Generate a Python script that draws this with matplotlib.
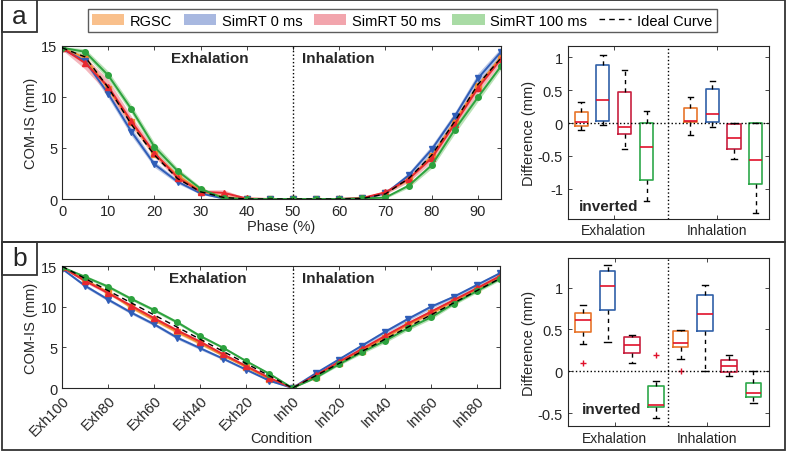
import numpy as np
import matplotlib.pyplot as plt
from matplotlib.patches import Rectangle, Patch
from matplotlib.lines import Line2D

plt.rcParams['font.family'] = ['Liberation Sans', 'DejaVu Sans']

# ---------------- data ----------------
phase = list(range(0, 100, 5))
ideal_a = [14.8, 13.9, 10.9, 7.3, 4.3, 2.0, 0.7, 0.15, 0, 0, 0, 0, 0, 0.05, 0.5, 2.0, 4.3, 7.6, 11.2, 13.8]
rgsc_a = [14.8, 13.8, 10.8, 7.5, 4.4, 2.3, 0.8, 0.2, 0.02, 0, 0, 0, 0, 0.05, 0.6, 1.9, 4.2, 7.6, 11.1, 13.9]
sim0_a = [14.7, 13.5, 10.3, 6.6, 3.4, 1.7, 0.55, 0.05, 0, 0, 0, 0, 0, 0.05, 0.55, 2.3, 4.85, 8.1, 11.8, 14.4]
sim50_a = [14.8, 13.3, 11.0, 7.6, 4.5, 2.1, 0.7, 0.6, 0.05, 0, 0, 0, 0, 0.1, 0.65, 1.95, 4.0, 7.35, 10.85, 13.7]
sim100_a = [14.8, 14.4, 12.1, 8.8, 5.1, 2.75, 1.0, 0.07, 0, 0, 0, 0, 0, 0.05, 0.15, 1.3, 3.3, 6.8, 9.95, 13.0]
# half width of shaded bands
band_rgsc_a = [0.1, 0.3, 0.4, 0.4, 0.3, 0.2, 0.1, 0.05, 0, 0, 0, 0, 0, 0, 0.1, 0.2, 0.3, 0.4, 0.4, 0.3]
band_sim0_a = [0.1, 0.3, 0.4, 0.4, 0.3, 0.2, 0.1, 0.05, 0, 0, 0, 0, 0, 0, 0.1, 0.3, 0.4, 0.4, 0.5, 0.4]
band_sim50_a = [0.2, 0.6, 0.7, 0.5, 0.4, 0.3, 0.2, 0.3, 0.05, 0, 0, 0, 0, 0.05, 0.2, 0.3, 0.4, 0.5, 0.5, 0.4]
band_sim100_a = [0.1, 0.3, 0.4, 0.4, 0.4, 0.3, 0.2, 0.05, 0, 0, 0, 0, 0, 0, 0.1, 0.2, 0.3, 0.4, 0.4, 0.3]

cond_ticks = ['Exh100', 'Exh80', 'Exh60', 'Exh40', 'Exh20', 'Inh0', 'Inh20', 'Inh40', 'Inh60', 'Inh80']
cond = list(range(20))
ideal_b = [15, 13.5, 12, 10.5, 9, 7.5, 6, 4.5, 3, 1.5, 0, 1.5, 3, 4.5, 6, 7.5, 9, 10.5, 12, 13.5]
rgsc_b = [14.9, 13.3, 11.8, 9.95, 8.4, 6.9, 5.5, 4.0, 2.6, 1.1, 0, 1.4, 3.1, 4.6, 6.2, 7.8, 9.2, 10.7, 12.2, 13.7]
sim0_b = [14.7, 12.6, 10.9, 9.3, 7.85, 6.2, 4.9, 3.6, 2.25, 0.9, 0, 1.8, 3.5, 5.2, 6.9, 8.5, 10.0, 11.25, 12.7, 14.15]
sim50_b = [14.9, 13.2, 11.7, 10.15, 8.6, 7.1, 5.7, 4.15, 2.7, 1.25, 0, 1.55, 3.2, 4.8, 6.4, 7.95, 9.4, 10.85, 12.3, 13.8]
sim100_b = [14.9, 13.7, 12.5, 11.0, 9.6, 8.1, 6.4, 4.95, 3.3, 1.75, 0, 1.25, 2.9, 4.4, 5.8, 7.35, 8.7, 10.4, 11.95, 13.45]
band_b = [0.1, 0.2, 0.2, 0.2, 0.2, 0.2, 0.2, 0.15, 0.15, 0.1, 0, 0.1, 0.15, 0.2, 0.25, 0.25, 0.25, 0.2, 0.2, 0.2]

# box plot stats: RGSC, 0 ms, 50 ms, 100 ms  (exhalation then inhalation)
box_a_whislo = [-0.10, -0.025, -0.39, -1.19, -0.18, -0.06, -0.55, -1.36]
box_a_q1 = [-0.04, 0.025, -0.17, -0.86, 0.015, 0.02, -0.40, -0.93]
box_a_med = [0.015, 0.357, -0.06, -0.36, 0.035, 0.13, -0.23, -0.56]
box_a_q3 = [0.168, 0.88, 0.47, 0.0, 0.23, 0.51, -0.02, 0.0]
box_a_whishi = [0.317, 1.04, 0.80, 0.19, 0.39, 0.64, 0.005, 0.005]
box_a_fliers = [[], [], [], [], [], [], [], []]

box_b_whislo = [0.325, 0.345, 0.103, -0.56, 0.143, 0.004, -0.056, -0.38]
box_b_q1 = [0.47, 0.734, 0.222, -0.425, 0.29, 0.476, -0.004, -0.30]
box_b_med = [0.61, 1.016, 0.317, -0.397, 0.333, 0.683, 0.067, -0.254]
box_b_q3 = [0.70, 1.20, 0.405, -0.175, 0.476, 0.905, 0.131, -0.139]
box_b_whishi = [0.786, 1.27, 0.44, -0.115, 0.49, 1.024, 0.198, 0.0]
box_b_fliers = [[0.10], [], [], [0.20], [0.0], [], [], []]

labels = ['RGSC', 'SimRT 0 ms', 'SimRT 50 ms', 'SimRT 100 ms']
line_cols = ['#F08A30', '#2F5DB8', '#E8282F', '#2CA23E']
band_cols = ['#F9C08C', '#A8B8E0', '#F2A5AD', '#A9DBA5']
box_cols = ['#E8742A', '#3060A8', '#C8203F', '#2EA84A']
markers = ['s', 'v', '^', 'o']
txt = '#262626'

fig = plt.figure(figsize=(7.87, 4.60), dpi=100)


def style(ax):
    ax.tick_params(direction='in', top=True, right=True, labelsize=10.5,
                   colors=txt, length=3, width=0.6)
    for s in ax.spines.values():
        s.set_color(txt)
        s.set_linewidth(0.8)


def lines(ax, x, ideal, series, bands):
    for i, (y, b) in enumerate(zip(series, bands)):
        y = np.array(y)
        b = np.array(b)
        ax.fill_between(x, y - b, y + b, color=band_cols[i], alpha=0.8, lw=0)
    for i, y in enumerate(series):
        ax.plot(x, y, color=line_cols[i], lw=1.4, marker=markers[i], ms=4)
    ax.plot(x, ideal, color='black', lw=1, ls=(0, (4, 3)), zorder=5)
    ax.set_ylim(0, 15)
    ax.set_yticks([0, 5, 10, 15])
    ax.set_ylabel('COM-IS (mm)', fontsize=10.5, color=txt, labelpad=2)
    style(ax)


def boxes(ax, pos, width, wl, q1, med, q3, wh, fl):
    stats = []
    for i in range(len(pos)):
        stats.append(dict(whislo=wl[i], q1=q1[i], med=med[i], q3=q3[i],
                          whishi=wh[i], fliers=fl[i]))
    bp = ax.bxp(stats, positions=pos, widths=width, capwidths=width * 0.4,
                showfliers=True, manage_ticks=False,
                medianprops=dict(color='#E0102A', lw=1.2),
                whiskerprops=dict(color='black', ls=(0, (3, 3)), lw=1),
                capprops=dict(color='black', lw=1),
                flierprops=dict(marker='+', markeredgecolor='#E0102A', ms=4))
    for i, b in enumerate(bp['boxes']):
        b.set_color(box_cols[i % 4])
        b.set_linewidth(1.2)
    ax.axhline(0, color='black', ls=':', lw=1)
    ax.set_ylabel('Difference (mm)', fontsize=10.5, color=txt, labelpad=1)
    style(ax)


# ---------- panel a ----------
ax1 = fig.add_axes([0.0788, 0.5652, 0.5578, 0.3333])
lines(ax1, phase, ideal_a, [rgsc_a, sim0_a, sim50_a, sim100_a],
      [band_rgsc_a, band_sim0_a, band_sim50_a, band_sim100_a])
ax1.set_xlim(0, 95)
ax1.set_xticks(range(0, 100, 10))
ax1.axvline(50, color='black', ls=':', lw=1)
ax1.text(32, 13.8, 'Exhalation', ha='center', va='center', fontsize=11, fontweight='bold', color=txt)
ax1.text(52, 13.8, 'Inhalation', ha='left', va='center', fontsize=11, fontweight='bold', color=txt)
ax1.set_xlabel('Phase (%)', fontsize=10.5, color=txt, labelpad=1)

ax2 = fig.add_axes([0.7217, 0.5228, 0.2554, 0.375])
boxes(ax2, [1, 2, 3, 4, 6, 7, 8, 9], 0.6, box_a_whislo, box_a_q1, box_a_med,
      box_a_q3, box_a_whishi, box_a_fliers)
ax2.set_xlim(0.4, 9.6)
ax2.set_ylim(-1.45, 1.17)
ax2.set_yticks([-1, -0.5, 0, 0.5, 1])
ax2.set_yticklabels(['-1', '-0.5', '0', '0.5', '1'])
ax2.axvline(5, color='black', ls=':', lw=1)
ax2.set_xticks([2.5, 7.2])
ax2.set_xticklabels(['Exhalation', 'Inhalation'], fontsize=10)
ax2.text(0.055, 0.075, 'inverted', transform=ax2.transAxes, fontsize=11,
         fontweight='bold', color=txt, va='center')

# ---------- panel b ----------
ax3 = fig.add_axes([0.0788, 0.1543, 0.5565, 0.2646])
lines(ax3, cond, ideal_b, [rgsc_b, sim0_b, sim50_b, sim100_b], [band_b] * 4)
ax3.set_xlim(0, 19)
ax3.set_xticks(range(0, 20, 2))
ax3.set_xticklabels(cond_ticks, rotation=45, ha='right', rotation_mode='anchor')
ax3.axvline(10, color='black', ls=':', lw=1)
ax3.text(6.33, 13.5, 'Exhalation', ha='center', va='center', fontsize=11, fontweight='bold', color=txt)
ax3.text(10.4, 13.5, 'Inhalation', ha='left', va='center', fontsize=11, fontweight='bold', color=txt)
ax3.set_xlabel('Condition', fontsize=10.5, color=txt, labelpad=-5)

ax4 = fig.add_axes([0.7217, 0.0717, 0.2554, 0.365])
boxes(ax4, [1, 2, 3, 4, 5, 6, 7, 8], 0.65, box_b_whislo, box_b_q1, box_b_med,
      box_b_q3, box_b_whishi, box_b_fliers)
ax4.set_xlim(0.37, 8.64)
ax4.set_ylim(-0.65, 1.35)
ax4.set_yticks([-0.5, 0, 0.5, 1])
ax4.set_yticklabels(['-0.5', '0', '0.5', '1'])
ax4.axvline(4.5, color='black', ls=':', lw=1)
ax4.set_xticks([2.3, 6.1])
ax4.set_xticklabels(['Exhalation', 'Inhalation'], fontsize=10)
ax4.text(0.07, 0.1, 'inverted', transform=ax4.transAxes, fontsize=11,
         fontweight='bold', color=txt, va='center')

# ---------- frames, panel letters, legend ----------
for (x, y, w, h) in [(0.003, 0.4717, 0.995, 0.526), (0.003, 0.0196, 0.995, 0.452)]:
    fig.add_artist(Rectangle((x, y), w, h, transform=fig.transFigure, fill=False,
                             lw=1.3, ec='#333333'))
for lab, y in [('a', 0.928), ('b', 0.4)]:
    fig.add_artist(Rectangle((0.003, y), 0.0445, 0.0717, transform=fig.transFigure,
                             fill=False, lw=1.3, ec='#333333'))
    fig.text(0.025, y + 0.036, lab, ha='center', va='center', fontsize=19, color=txt)

handles = [Patch(facecolor=c, edgecolor='none') for c in band_cols]
handles.append(Line2D([0], [0], color='black', lw=1, ls=(0, (4, 3))))
fig.legend(handles, labels + ['Ideal Curve'], ncol=5, loc='center',
           bbox_to_anchor=(0.511, 0.953), fontsize=10.5, frameon=True, fancybox=False,
           edgecolor='#333333', handlelength=2.2, handleheight=0.8,
           columnspacing=0.8, handletextpad=0.4, borderpad=0.3)

fig.savefig('out.png', dpi=100)
